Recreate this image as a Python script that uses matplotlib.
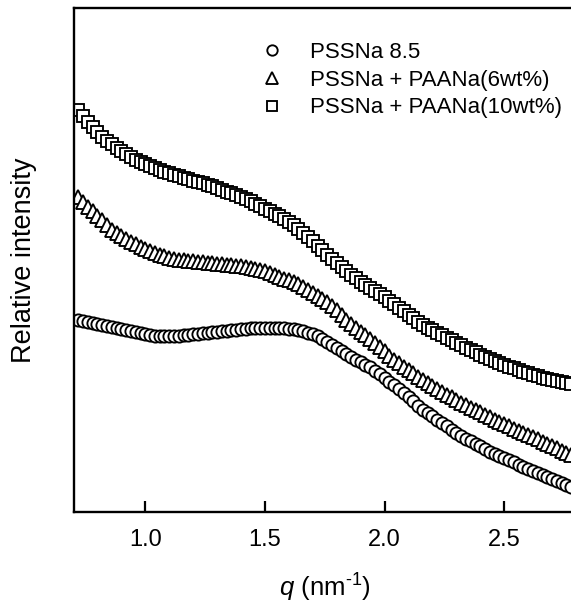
import numpy as np
import matplotlib
matplotlib.use("Agg")
import matplotlib.pyplot as plt

plt.rcParams['font.family'] = ['Liberation Sans', 'DejaVu Sans']
plt.rcParams['mathtext.fontset'] = 'custom'
plt.rcParams['mathtext.rm'] = 'Liberation Sans'
plt.rcParams['mathtext.it'] = 'Liberation Sans:italic'

# q values (nm^-1)
q = np.round(np.arange(0.72, 2.7801, 0.02), 2)

# Relative intensity (arbitrary units)
pssna = [192, 191, 190, 189, 188, 187, 186, 185, 184, 183, 182, 181, 180, 179, 178, 177,
         176.5, 176, 176, 176, 176, 176.5, 177, 177.5, 178, 178.5, 179, 179.5, 180, 180.5,
         181, 181.5, 182, 182.5, 183, 183.3, 183.6, 184, 184.2, 184.4, 184.5, 184.5, 184.3,
         184, 183.5, 183, 182, 181, 179.5, 178, 176, 173, 170, 167, 164, 161, 158, 155, 152,
         150, 147, 145, 141, 138, 134, 130, 127, 123, 119, 115, 111, 106, 102, 99, 96, 92,
         89, 86, 82, 79, 76, 73, 71, 68, 66, 63, 60, 58, 56, 54, 52, 50, 47, 45, 43, 41, 39,
         37, 35, 33, 31, 29, 27, 25]

paana6 = [315, 310, 305.5, 301, 296.5, 292, 287, 282, 279, 276, 273, 270.5, 268, 265.5, 263,
          261, 259, 257.5, 256, 254.5, 253.5, 252.5, 252, 251.5, 251, 250.5, 250, 249.5, 249,
          248.5, 248, 247.5, 247, 246.5, 246, 245, 244.5, 243.5, 242.5, 241, 239, 237, 235,
          233.5, 232, 230.5, 228.5, 225.5, 222.5, 219, 216, 213, 210, 206.5, 202, 197, 192,
          188, 184, 180.5, 177, 173, 169, 165, 161, 156, 152, 149, 145.5, 142, 139, 135.5,
          132, 129, 126, 123, 120, 117.5, 115, 112, 109.5, 107, 104.5, 102, 100, 97.5, 95,
          92.5, 90, 88, 86, 83.5, 81, 79, 77, 75, 73, 70.5, 68, 66, 64, 61.5, 59, 57]

paana10 = [402, 396, 390.5, 385, 380, 375, 371.5, 368, 364.5, 361.5, 358.5, 355, 352, 350,
           348, 346, 344, 342, 340.5, 339, 337.5, 336, 334.5, 333, 331.5, 330, 329, 327.5,
           326, 324, 322.5, 320.5, 319, 317.5, 315.5, 313, 311, 308.5, 306, 303.5, 301, 298.5,
           296, 293, 290, 287, 283, 279, 275, 271, 266.5, 262, 257.5, 253, 249, 245, 241,
           237.5, 234, 230.5, 227.5, 224.5, 221, 218, 215, 211.5, 208, 204.5, 201, 197.5,
           194, 190.5, 187, 184.5, 182, 179.5, 177, 174.5, 172, 169.5, 167, 164.5, 162, 160,
           157.5, 155, 153, 151, 149, 147, 145.5, 144, 142, 140.5, 139, 137.5, 136, 134.5,
           133.5, 132.5, 131, 130, 129, 128]

labels = ['PSSNa 8.5', 'PSSNa + PAANa(6wt%)', 'PSSNa + PAANa(10wt%)']
xticks = [1.0, 1.5, 2.0, 2.5]

W, H = 571, 609
fig = plt.figure(figsize=(W / 100, H / 100), dpi=100)
left, right, top, bottom = 73.5, 576, 8, 512
ax = fig.add_axes([left / W, 1 - bottom / H, (right - left) / W, (bottom - top) / H])

mk = dict(linestyle='none', markerfacecolor='white', markeredgecolor='black',
          markeredgewidth=1.35)
ax.plot(q, pssna, marker='o', markersize=8.8, label=labels[0], **mk)
ax.plot(q, paana6, marker='^', markersize=9.4, label=labels[1], **mk)
ax.plot(q, paana10, marker='s', markersize=8.0, label=labels[2], **mk)

ax.set_xlim(0.7, 2.8)
ax.set_ylim(0, 504)
ax.set_xticks(xticks)
ax.set_xticklabels([f'{t:.1f}' for t in xticks], fontsize=17)
ax.set_yticks([])
ax.tick_params(axis='x', direction='in', length=8, width=1.6, pad=12.5)
for s in ax.spines.values():
    s.set_linewidth(1.7)

ax.set_xlabel('$q$ (nm$^{\\mathregular{\u2010}1}$)', fontsize=18.5, labelpad=15)
ax.set_ylabel('Relative intensity', fontsize=19.5, labelpad=26)

leg = ax.legend(loc='upper left', bbox_to_anchor=(261 / W, 1 - 42 / H),
                bbox_transform=fig.transFigure, frameon=False, fontsize=16,
                handlelength=1.0, handletextpad=1.2, labelspacing=0.3,
                borderpad=0, borderaxespad=0, numpoints=1, markerscale=0.85)

fig.savefig('out.png', dpi=100)
